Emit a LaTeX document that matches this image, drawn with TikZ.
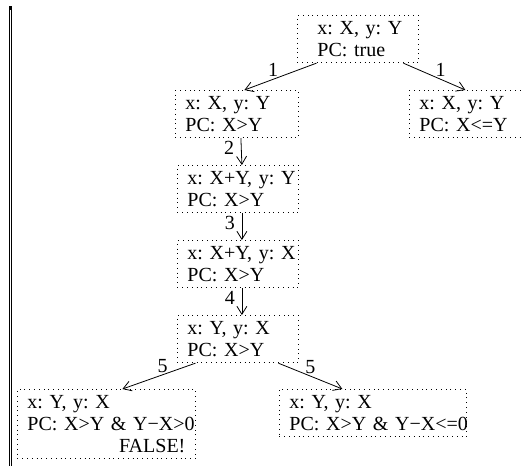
\documentclass[tikz,border=0pt]{standalone}
\usepackage{fontspec}
\setmainfont{Liberation Serif}
\usetikzlibrary{arrows.meta}

\tikzset{
  state/.style={draw, dotted, anchor=north west, align=left, inner xsep=5pt, inner ysep=3pt},
  trans/.style={-{Straight Barb[length=4pt,width=5pt]}}
}

\begin{document}
\begin{tikzpicture}[x=0.5pt, y=-0.5pt, font=\fontsize{10}{11}\selectfont\frenchspacing]
            \useasboundingbox (0,0) rectangle (522,466);
            \clip (0,0) rectangle (522,466);

            % page edge on the left
            \fill (9,6) rectangle (12,10);
            \draw[line width=0.5pt] (9.5,6) -- (9.5,466);
            \draw[line width=0.5pt] (11.5,10) -- (11.5,466);

            \node[state, inner xsep=10pt, text width=40.5pt] (init) at (297,15) {\mbox{x: X, y: Y}\\PC: true};
            \node[state, text width=51.5pt] (s1) at (175,90) {x: X, y: Y\\PC: X>Y};
            \node[state, text width=51.5pt] (else) at (409,90) {x: X, y: Y\\PC: X<=Y};
            \node[state, text width=50.5pt] (s2) at (177,165) {\mbox{x: X+Y, y: Y}\\PC: X>Y};
            \node[state, text width=50.5pt] (s3) at (177,240) {\mbox{x: X+Y, y: X}\\PC: X>Y};
            \node[state, text width=50.5pt] (s4) at (177,315) {x: Y, y: X\\PC: X>Y};
            \node[state, text width=79pt] (infeas) at (17,389)
                {x: Y, y: X\\\mbox{PC: X>Y \& Y−X>0}\\\hspace*{0pt plus 1filll}FALSE!};
            \node[state, text width=83.5pt] (feas) at (279,389)
                {x: Y, y: X\\\mbox{PC: X>Y \& Y−X<=0}};

            \draw[trans] ([xshift=-20.75pt]init.south) -- node[pos=0.6, above, inner sep=1pt] {1} ([xshift=3.75pt]s1.north);
            \draw[trans] ([xshift=22.75pt]init.south) -- node[pos=0.6, above, inner sep=1pt] {1} ([xshift=-2.75pt]else.north);
            \foreach \i/\j in {1/2, 2/3, 3/4} {
                \draw[trans] ([xshift=2pt]s\i.south) -- node[pos=0.38, left] {\j} ([xshift=2pt]s\j.north);
            }
            \draw[trans] ([xshift=-21.25pt]s4.south) -- node[pos=0.45, above, inner sep=1pt] {5} ([xshift=8pt]infeas.north);
            \draw[trans] ([xshift=20.25pt]s4.south) -- node[pos=0.5, above, inner sep=1pt] {5} ([xshift=-15.25pt]feas.north);
        \end{tikzpicture}
\end{document}
